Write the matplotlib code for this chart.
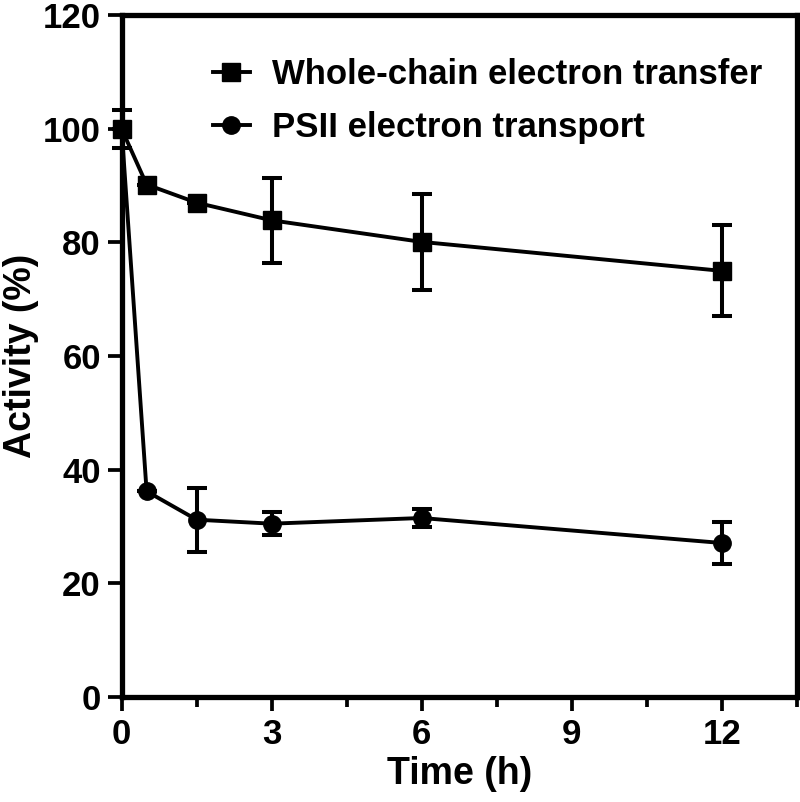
import matplotlib
matplotlib.use('Agg')
import numpy as np
import matplotlib.pyplot as plt
from matplotlib.ticker import MultipleLocator

plt.rcParams['font.family'] = ['Liberation Sans', 'DejaVu Sans']
plt.rcParams['font.weight'] = 'bold'

# data
time_h = [0, 0.5, 1.5, 3, 6, 12]
whole_chain = [100, 90.2, 87, 83.9, 80.1, 75]
whole_chain_err = [3.3, 0, 0, 7.5, 8.5, 8]
psii = [100, 36.2, 31.2, 30.5, 31.5, 27.1]
psii_err = [0, 0, 5.6, 2, 1.5, 3.7]

fig = plt.figure(figsize=(8, 8.02), dpi=100)
ax = fig.add_axes([0.152, 0.131, 0.844, 0.850])

eb1 = ax.errorbar(time_h, whole_chain, yerr=whole_chain_err, color='black', marker='s',
                  markersize=12.5, linewidth=2.8, elinewidth=2.9, capsize=7.5, capthick=2.9,
                  label='Whole-chain electron transfer', clip_on=False, zorder=3)
eb2 = ax.errorbar(time_h, psii, yerr=psii_err, color='black', marker='o',
                  markersize=12.5, linewidth=2.8, elinewidth=2.9, capsize=7.5, capthick=2.9,
                  label='PSII electron transport', clip_on=False, zorder=3)

ax.set_xlim(0, 13.5)
ax.set_ylim(0, 120)
ax.xaxis.set_major_locator(MultipleLocator(3))
ax.xaxis.set_minor_locator(MultipleLocator(1.5))
ax.yaxis.set_major_locator(MultipleLocator(20))

for s in ax.spines.values():
    s.set_linewidth(3.8)
ax.tick_params(which='major', direction='out', length=10, width=2.7, labelsize=25, pad=5)
ax.tick_params(which='minor', direction='out', length=7, width=2.7)
ax.tick_params(axis='y', which='minor', length=0)
for lab in ax.get_xticklabels() + ax.get_yticklabels():
    lab.set_fontweight('bold')

ax.set_xlabel('Time (h)', fontsize=27, fontweight='bold', labelpad=4)
ax.set_ylabel('Activity (%)', fontsize=27, fontweight='bold')
ax.yaxis.set_label_coords(-0.122, 0.5)

ax.legend([eb1[0], eb2[0]], ['Whole-chain electron transfer', 'PSII electron transport'],
          loc='upper left', bbox_to_anchor=(0.135, 0.937), frameon=False, fontsize=25,
          handlelength=1.07, handletextpad=0.63, labelspacing=0.58, borderpad=0,
          borderaxespad=0, numpoints=1)

plt.savefig('out.png', dpi=100, facecolor='w')
